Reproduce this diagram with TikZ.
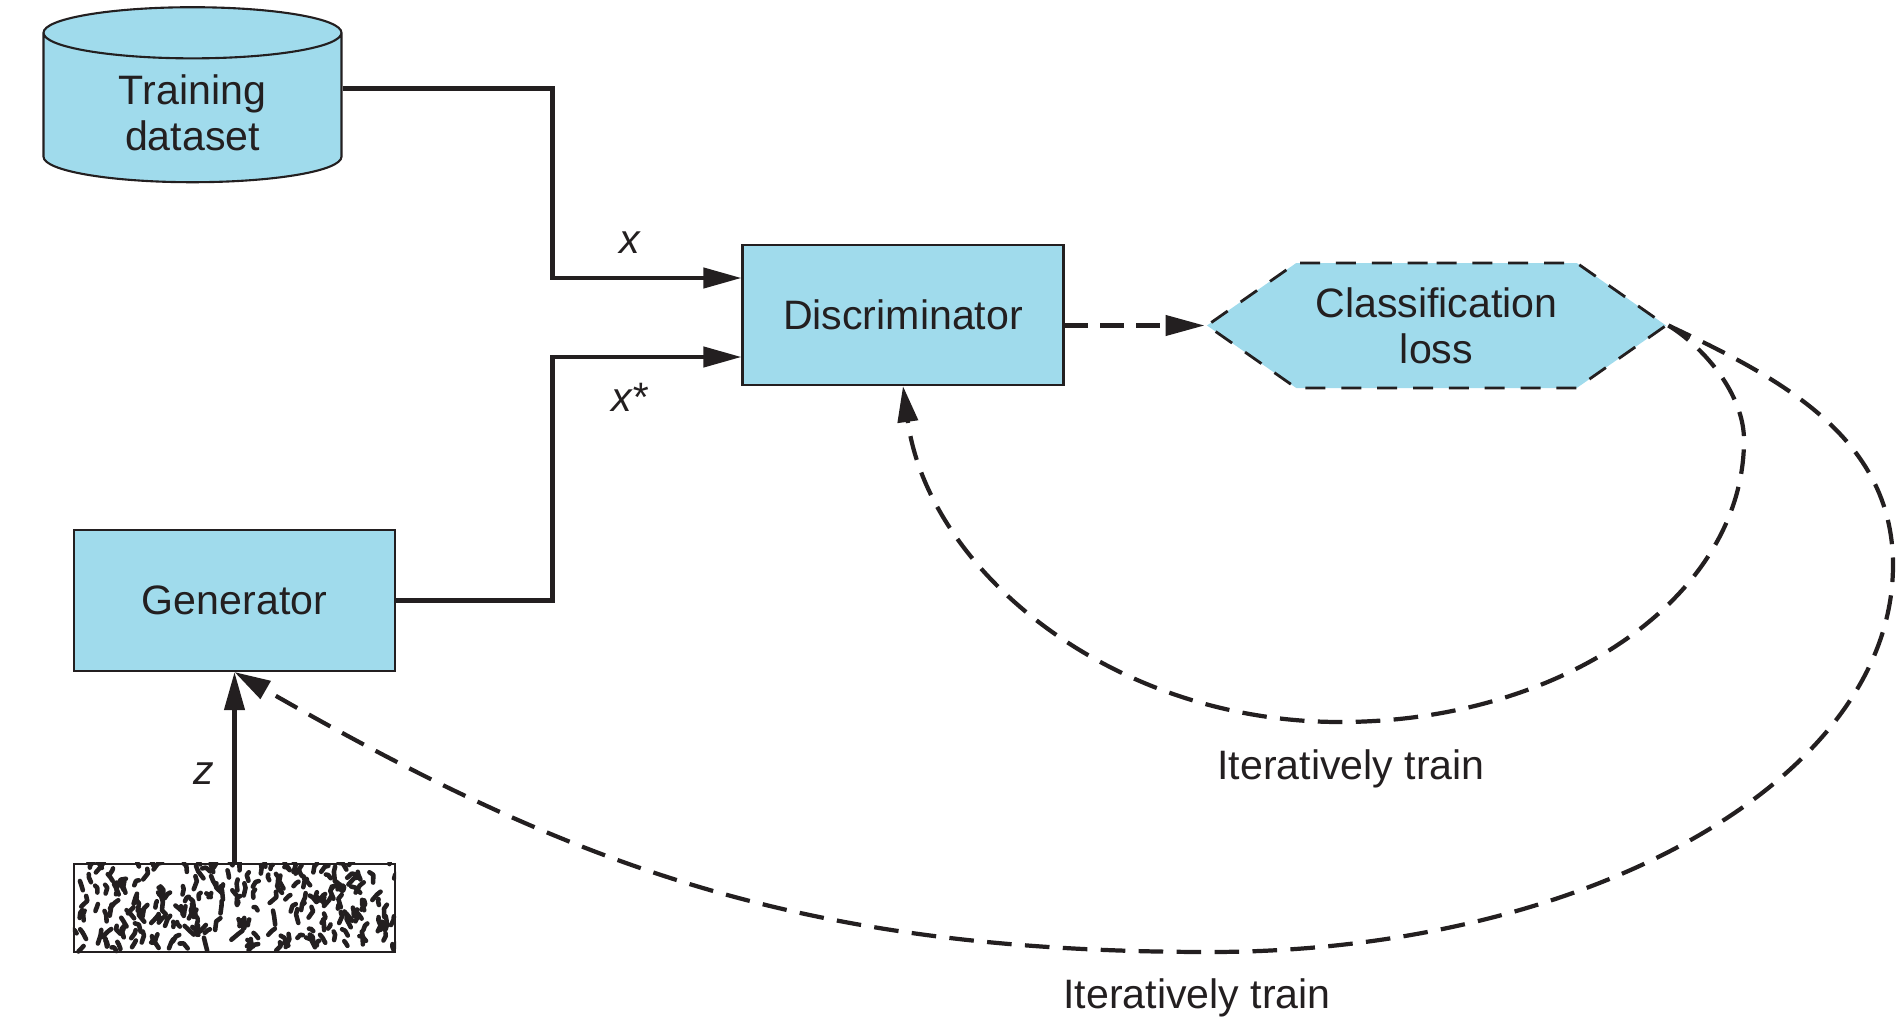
\documentclass[tikz,border=0pt]{standalone}
\usepackage{fontspec}
\setmainfont{Liberation Sans}
\usetikzlibrary{arrows.meta,shapes.geometric,shapes.symbols}

\definecolor{boxblue}{RGB}{160,219,236}
\definecolor{ink}{RGB}{35,31,32}

\begin{document}
\begin{tikzpicture}[
	every node/.style={text=ink, font=\fontsize{11.7}{13.2}\selectfont},
	block/.style={draw=ink, line width=0.6pt, fill=boxblue, minimum width=3.21cm, minimum height=1.4cm},
	feed/.style={ink, line width=1.2pt, -{Triangle[length=3.8mm,width=2mm]}},
	loop/.style={ink, line width=1.2pt, dash pattern=on 7pt off 3.8pt, -{Triangle[length=3.6mm,width=2mm]}}
	]
	\useasboundingbox (0,0) rectangle (19.02,10.18);
	% boxes
	\node[draw=ink, line width=0.6pt, fill=boxblue, cylinder, shape border rotate=90, aspect=0.3,
		minimum width=2.98cm, minimum height=1.75cm, align=center] (data) at (1.925,9.05) {Training\\dataset};
	\node[block] (disc) at (9.03,7.03) {Discriminator};
	\node[block, minimum height=1.41cm] (gen) at (2.345,4.175) {Generator};
	\node[draw=ink, line width=0.6pt, minimum width=3.21cm, minimum height=0.88cm] (noise) at (2.345,1.10) {};
	\node[draw=ink, line width=0.8pt, dash pattern=on 5.7pt off 4.5pt, fill=boxblue, signal, signal to=east and west,
		signal pointer angle=70, minimum width=4.59cm, minimum height=1.25cm, align=center] (loss) at (14.365,6.925) {Classification\\loss};
	% noise texture
	\begin{scope}
		\clip (noise.south west) rectangle (noise.north east);
		\pgfmathsetseed{42}
		\foreach \k in {1,...,220}{
			\pgfmathsetmacro{\px}{0.74+3.21*rnd}
			\pgfmathsetmacro{\py}{0.66+0.88*rnd}
			\pgfmathsetmacro{\pa}{40+100*rnd}
			\pgfmathsetmacro{\pb}{\pa+60*rand}
			\pgfmathsetmacro{\pl}{0.03+0.06*rnd}
			\draw[ink, line width=1.3pt, line cap=round, line join=round] (\px,\py) -- ++(\pa:\pl) -- ++(\pb:0.6*\pl);
		}
	\end{scope}
	% inputs
	\draw[feed] ([yshift=2.45mm]data.east) -| ([xshift=-18.9mm,yshift=3.7mm]disc.west) -- ([yshift=3.7mm]disc.west);
	\draw[feed] (gen.east) -| ([xshift=-18.9mm,yshift=-4.2mm]disc.west) -- ([yshift=-4.2mm]disc.west);
	\draw[feed] (noise.north) -- (gen.south);
	\node (xreal) at (6.30,7.75) {\textit{x}};
	\node (xfake) at (6.30,6.21) {\textit{x*}};
	\node (zlab) at (2.04,2.44) {\textit{z}};
	% loss and feedback
	\draw[ink, line width=1.2pt, dash pattern=on 6.8pt off 3.4pt, -{Triangle[length=3.9mm,width=2mm]}] (disc.east |- loss.west) -- (loss.west);
	\draw[loop] (loss.east) .. controls (17.05,6.70) and (17.44,6.23) .. (17.44,5.78)
		.. controls (17.44,4.22) and (15.63,2.96) .. (13.40,2.96)
		.. controls (11.10,2.96) and (9.28,4.49) .. (disc.south);
	\draw[loop] (loss.east) .. controls (17.75,6.42) and (18.93,5.83) .. (18.93,4.53)
		.. controls (18.93,2.39) and (15.87,0.66) .. (12.10,0.66)
		.. controls (8.10,0.66) and (5.80,1.47) .. (gen.south);
	\node (traind) at (13.51,2.49) {Iteratively train};
	\node (traing) at (11.97,0.20) {Iteratively train};
\end{tikzpicture}
\end{document}
